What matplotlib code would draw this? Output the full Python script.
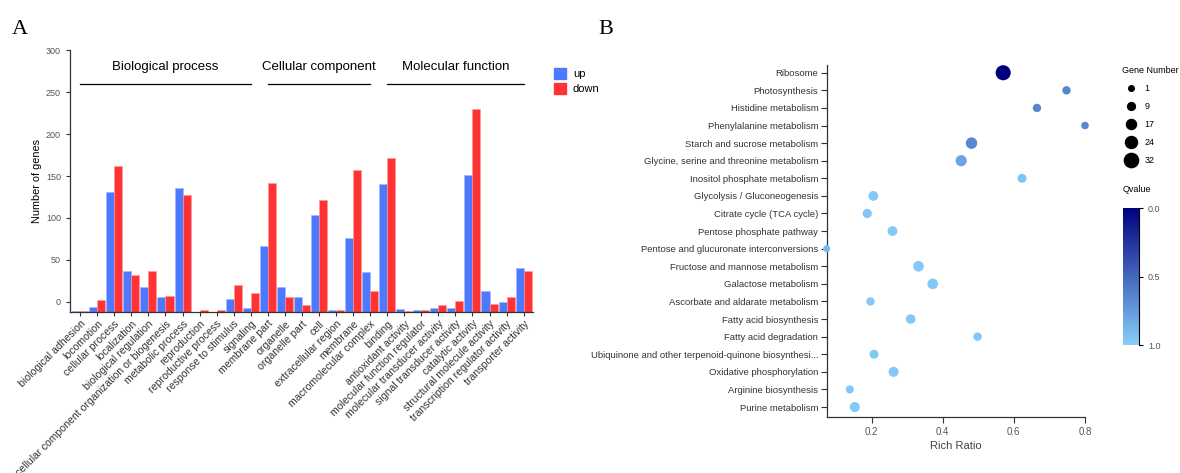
import numpy as np
import matplotlib
matplotlib.use("Agg")
import matplotlib.pyplot as plt
from matplotlib.patches import Patch
from matplotlib.colors import LinearSegmentedColormap, Normalize

plt.rcParams['font.family'] = ['Liberation Sans', 'DejaVu Sans']

# ---- panel A data ----
go_terms = [
    "biological adhesion", "locomotion", "cellular process", "localization",
    "biological regulation", "cellular component organization or biogenesis",
    "metabolic process", "reproduction", "reproductive process",
    "response to stimulus", "signaling",
    "membrane part", "organelle", "organelle part", "cell",
    "extracellular region", "membrane", "macromolecular complex",
    "binding", "antioxidant activity", "molecular function regulator",
    "molecular transducer activity", "signal transducer activity",
    "catalytic activity", "structural molecule activity",
    "transcription regulator activity", "transporter activity",
]
up_counts = [1, 6, 143, 49, 29, 17, 148, 0, 0, 15, 4,
             79, 30, 17, 116, 2, 88, 48,
             153, 3, 2, 5, 5, 163, 25, 12, 52]
down_counts = [1, 14, 174, 44, 49, 19, 139, 2, 2, 32, 22,
               154, 18, 8, 134, 2, 169, 25,
               184, 1, 2, 8, 13, 242, 9, 18, 49]
groups = ["Biological process", "Cellular component", "Molecular function"]
group_ranges = [(0, 10), (11, 17), (18, 26)]

# ---- panel B data ----
pathways = [
    "Ribosome", "Photosynthesis", "Histidine metabolism",
    "Phenylalanine metabolism", "Starch and sucrose metabolism",
    "Glycine, serine and threonine metabolism", "Inositol phosphate metabolism",
    "Glycolysis / Gluconeogenesis", "Citrate cycle (TCA cycle)",
    "Pentose phosphate pathway", "Pentose and glucuronate interconversions",
    "Fructose and mannose metabolism", "Galactose metabolism",
    "Ascorbate and aldarate metabolism", "Fatty acid biosynthesis",
    "Fatty acid degradation",
    "Ubiquinone and other terpenoid-quinone biosynthesi...",
    "Oxidative phosphorylation", "Arginine biosynthesis", "Purine metabolism",
]
rich_ratio = [0.57, 0.748, 0.665, 0.80, 0.481, 0.452, 0.623, 0.205, 0.188,
              0.259, 0.074, 0.332, 0.372, 0.197, 0.31, 0.498, 0.207, 0.262,
              0.139, 0.153]
gene_number = [30, 6, 6, 3, 17, 16, 8, 11, 9, 11, 1, 14, 14, 6, 10, 6, 8, 12, 5, 12]
qvalue = [0.0, 0.65, 0.65, 0.65, 0.65, 0.8, 0.95, 0.97, 0.97, 0.97, 0.9,
          0.97, 0.97, 0.97, 0.97, 0.97, 0.97, 0.97, 0.97, 0.97]
legend_sizes = [1, 9, 17, 24, 32]

W, H = 1180, 473
fig = plt.figure(figsize=(W / 100, H / 100), dpi=100)

def box(l, t, r, b):
    return [l / W, 1 - b / H, (r - l) / W, (b - t) / H]

axis_col = "#333333"
tick_col = "#555555"

# ================= A =================
ax = fig.add_axes(box(70, 50.5, 533, 311.7))
floor = -12
x = np.arange(len(go_terms))
bw = 0.47
ax.bar(x - bw / 2, up_counts, width=bw, bottom=floor, color="#4d79ff",
       edgecolor="#9fb5ff", linewidth=0.4)
ax.bar(x + bw / 2, down_counts, width=bw, bottom=floor, color="#ff3333",
       edgecolor="#ff9a9a", linewidth=0.4)
ax.set_xlim(-0.6, len(go_terms) - 0.45)
ax.set_ylim(floor, 300)
ax.set_yticks(range(0, 301, 50))
ax.set_xticks(x)
ax.set_xticklabels(go_terms, rotation=45, ha="right", rotation_mode="anchor",
                   fontsize=7.6, color="#333333")
ax.tick_params(axis="y", labelsize=6.5, labelcolor=tick_col, length=3,
               color=axis_col, width=0.8)
ax.tick_params(axis="x", length=3, color=axis_col, width=0.8, pad=2)
for s in ["top", "right"]:
    ax.spines[s].set_visible(False)
for s in ["left", "bottom"]:
    ax.spines[s].set_color(axis_col)
    ax.spines[s].set_linewidth(0.9)
ax.set_ylabel("Number of genes", fontsize=7.8, labelpad=3)

for name, (a, b) in zip(groups, group_ranges):
    ax.plot([a, b], [260, 260], color="black", lw=0.9, clip_on=False)
    ax.text((a + b) / 2, 280, name, ha="center", va="center", fontsize=9.5)

fig.legend(handles=[Patch(color="#4d79ff", label="up"),
                    Patch(color="#ff3333", label="down")],
           loc="upper left", bbox_to_anchor=(544 / W, 1 - 58 / H),
           frameon=False, fontsize=8, handlelength=1.1, handleheight=1.1,
           handletextpad=0.6, labelspacing=0.35)

fig.text(12 / W, 1 - 30 / H, "A", fontsize=16, family="Liberation Serif",
         va="center", ha="left")
fig.text(598 / W, 1 - 30 / H, "B", fontsize=16, family="Liberation Serif",
         va="center", ha="left")

# ================= B =================
bx = fig.add_axes(box(826.7, 65, 1085, 416.7))
cmap = LinearSegmentedColormap.from_list("q", ["#00007f", "#87cefa"])
norm = Normalize(0, 1)

def dot_size(n):
    d_px = 7 + 0.28 * (np.asarray(n) - 1)
    return (d_px * 0.72) ** 2

yy = np.arange(len(pathways))
bx.scatter(rich_ratio, yy, s=dot_size(gene_number), c=qvalue, cmap=cmap,
           norm=norm, linewidths=0, zorder=3, clip_on=False)
bx.set_ylim(len(pathways) - 0.45, -0.44)
bx.set_xlim(0.074, 0.8)
bx.set_yticks(yy)
bx.set_yticklabels(pathways, fontsize=6.8, color="#333333")
bx.set_xticks([0.2, 0.4, 0.6, 0.8])
bx.set_xticklabels(["0.2", "0.4", "0.6", "0.8"])
bx.tick_params(axis="x", labelsize=7, labelcolor=tick_col, length=4,
               color=axis_col, width=0.8)
bx.tick_params(axis="y", length=4, color=axis_col, width=0.8, pad=2)
for s in ["top", "right"]:
    bx.spines[s].set_visible(False)
for s in ["left", "bottom"]:
    bx.spines[s].set_color(axis_col)
    bx.spines[s].set_linewidth(0.9)
bx.set_xlabel("Rich Ratio", fontsize=8, color="#444444", labelpad=3)

# gene number legend
handles = [plt.scatter([], [], s=dot_size(n), color="black", linewidths=0)
           for n in legend_sizes]
leg = fig.legend(handles, [str(n) for n in legend_sizes], loc="upper left",
                 bbox_to_anchor=(1118 / W, 1 - 62 / H), frameon=False,
                 fontsize=6.5, title="Gene Number", title_fontsize=6.5,
                 handletextpad=0.5, labelspacing=1.0, alignment="left",
                 borderaxespad=0)

# qvalue colorbar
fig.text(1123 / W, 1 - 189 / H, "Qvalue", fontsize=6.5, va="center")
cax = fig.add_axes(box(1123, 208, 1139, 345))
sm = plt.cm.ScalarMappable(norm=norm, cmap=cmap)
cb = fig.colorbar(sm, cax=cax, ticks=[0, 0.5, 1])
cb.ax.set_yticklabels(["0.0", "0.5", "1.0"])
cb.ax.invert_yaxis()
cb.outline.set_visible(False)
cb.ax.tick_params(labelsize=6.5, labelcolor=tick_col, length=3, width=0.8)
cb.ax.spines["right"].set_visible(True)

fig.savefig("out.png", dpi=100)
